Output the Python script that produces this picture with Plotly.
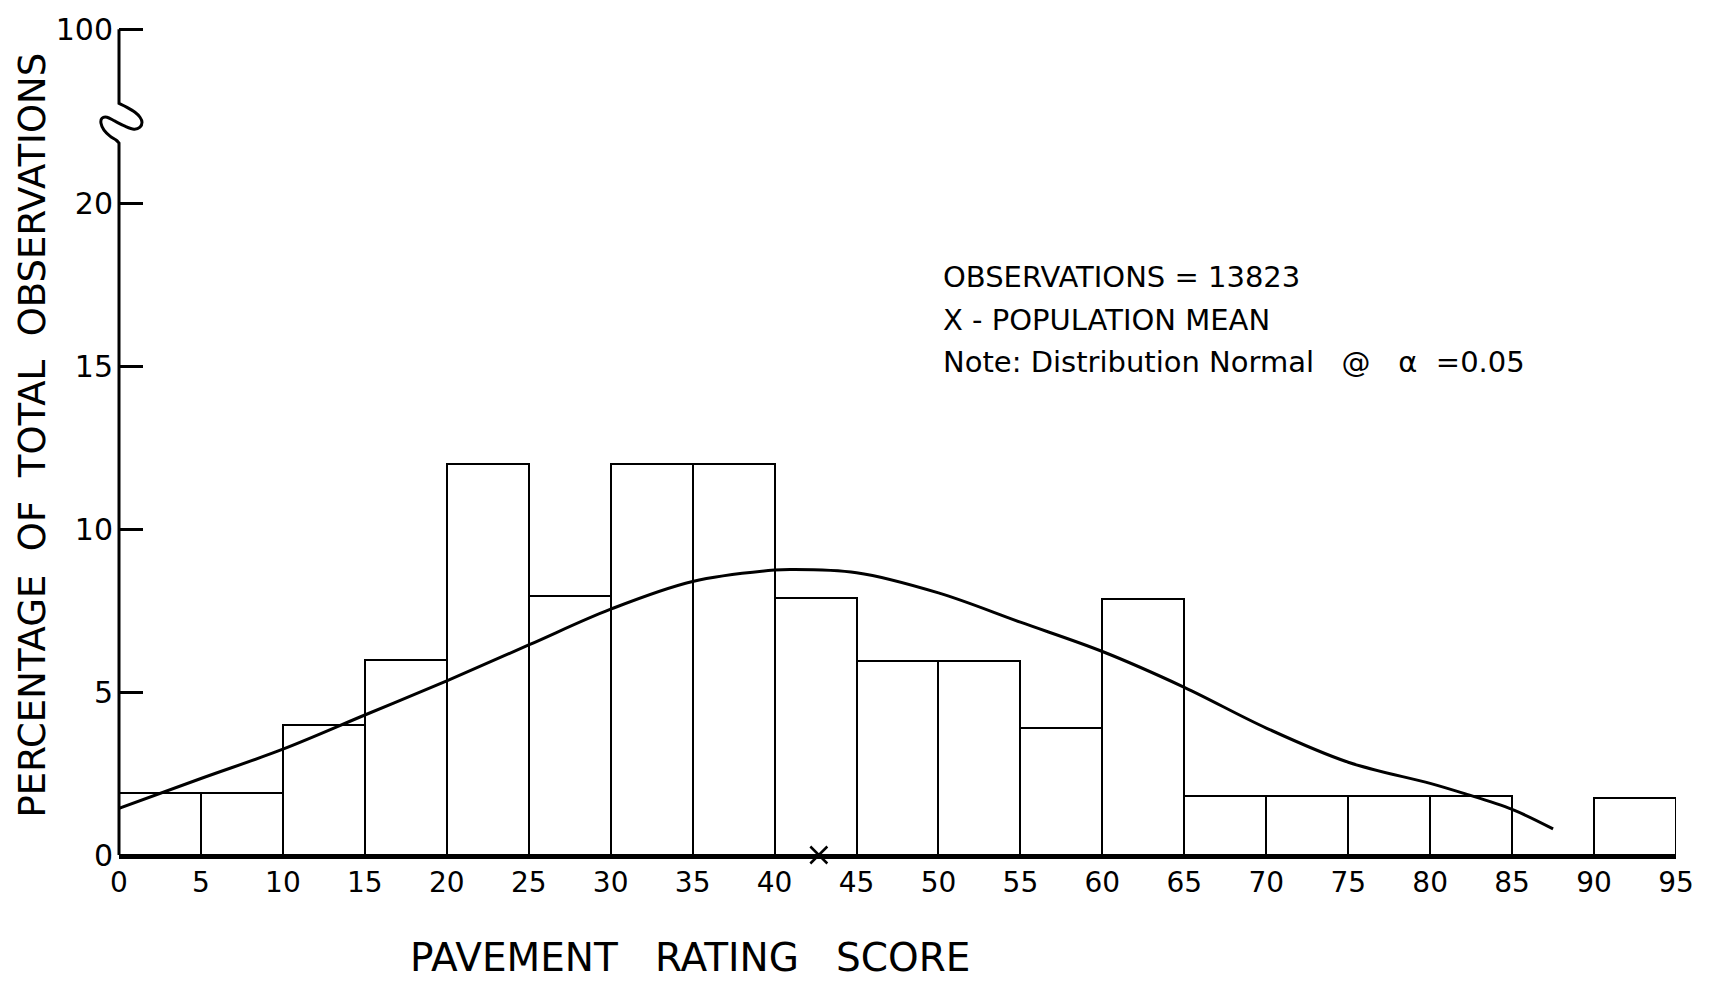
import plotly.graph_objects as go

# ---- data ----
bin_left = [0, 5, 10, 15, 20, 25, 30, 35, 40, 45, 50, 55, 60, 65, 70, 75, 80, 85, 90]
pct = [1.9, 1.9, 4.0, 6.0, 12.0, 7.95, 12.0, 12.0, 7.9, 5.95, 5.95, 3.9, 7.85, 1.8, 1.8, 1.8, 1.8, 0.0, 1.75]
bin_width = 5

curve_x = [0, 5, 10, 15, 20, 25, 30, 35, 40, 41, 45, 50, 55, 60, 65, 70, 75, 80, 82, 85, 87.5]
curve_y = [1.43, 2.35, 3.25, 4.3, 5.35, 6.45, 7.55, 8.4, 8.75, 8.77, 8.67, 8.05, 7.15, 6.25, 5.15, 3.9, 2.85, 2.2, 1.9, 1.4, 0.8]

mean_score = 42.7

x_ticks = list(range(0, 100, 5))
y_tickvals = [0, 5, 10, 15, 20, 25.36]
y_ticktext = ["0", "5", "10", "15", "20", "100"]
y_top = 25.36

notes = ["OBSERVATIONS = 13823", "X - POPULATION MEAN", "Note: Distribution Normal   @   \u03b1  =0.05"]
note_y = [17.75, 16.44, 15.13]

# ---- layout geometry (pixels) ----
W, H = 1716, 981
L, R, T, B = 119, 40, 21, 126
PW, PH = W - L - R, H - T - B
px_per_x = PW / 95.0
y_range_top = 25.4
px_per_y = PH / y_range_top

note_left_px = 941

# axis-break glyph, offsets in pixels from the axis (dx) and from the top edge (py), top to bottom
brk_dx = [0, 8, 16, 21, 23, 21, 15, 6, -4, -12, -17, -18, -15, -9, -3, 0]
brk_py = [97, 101, 106, 111, 116, 121, 123, 120, 115, 111, 112, 117, 124, 130, 134, 137]


def to_paper(dx, py):
    return dx / PW, (H - B - py) / PH


pts = [to_paper(d, p) for d, p in zip(brk_dx, brk_py)]
# Catmull-Rom -> cubic bezier for a smooth glyph
seg = []
for i in range(len(pts) - 1):
    p0 = pts[i - 1] if i > 0 else pts[i]
    p1, p2 = pts[i], pts[i + 1]
    p3 = pts[i + 2] if i + 2 < len(pts) else pts[i + 1]
    c1 = (p1[0] + (p2[0] - p0[0]) / 6, p1[1] + (p2[1] - p0[1]) / 6)
    c2 = (p2[0] - (p3[0] - p1[0]) / 6, p2[1] - (p3[1] - p1[1]) / 6)
    seg.append(f"C {c1[0]:.6f},{c1[1]:.6f} {c2[0]:.6f},{c2[1]:.6f} {p2[0]:.6f},{p2[1]:.6f}")
top_paper = y_top / y_range_top
axis_path = (f"M 0,{top_paper:.6f} L {pts[0][0]:.6f},{pts[0][1]:.6f} " + " ".join(seg)
             + " L 0,0")

FONT = "DejaVu Sans, Verdana, sans-serif"

fig = go.Figure()
fig.add_trace(go.Bar(
    x=[b + bin_width / 2 for b in bin_left], y=pct, width=bin_width,
    marker=dict(color="white", line=dict(color="black", width=2)),
    showlegend=False, hoverinfo="skip",
))
fig.add_trace(go.Scatter(
    x=curve_x, y=curve_y, mode="lines",
    line=dict(color="black", width=3, shape="spline", smoothing=1.0),
    showlegend=False,
))
fig.add_trace(go.Scatter(
    x=[mean_score], y=[0.0], mode="markers",
    marker=dict(symbol="x-thin", size=17, line=dict(color="black", width=2.5)),
    cliponaxis=False, showlegend=False,
))

fig.add_shape(type="path", xref="paper", yref="paper", path=axis_path,
              line=dict(color="black", width=3), layer="above")

for t, yy in zip(notes, note_y):
    fig.add_annotation(x=(note_left_px - L) / px_per_x, y=yy, xref="x", yref="y", text=t,
                       showarrow=False, xanchor="left", yanchor="middle",
                       font=dict(family=FONT, size=29, color="black"))

fig.add_annotation(xref="paper", yref="paper", x=(33 - L) / PW, y=(H - B - 432) / PH,
                   text="PERCENTAGE  OF  TOTAL  OBSERVATIONS", textangle=-90, showarrow=False,
                   xanchor="center", yanchor="middle",
                   font=dict(family=FONT, size=37, color="black"))
fig.add_annotation(xref="paper", yref="paper", x=(690 - L) / PW, y=(H - B - 958) / PH,
                   text="PAVEMENT   RATING   SCORE", showarrow=False,
                   xanchor="center", yanchor="middle",
                   font=dict(family=FONT, size=39, color="black"))

fig.update_layout(
    width=W, height=H,
    margin=dict(l=L, r=R, t=T, b=B),
    paper_bgcolor="white", plot_bgcolor="white",
    bargap=0,
    xaxis=dict(range=[0, 95], tickvals=x_ticks, ticks="", showgrid=False, zeroline=False,
               showline=True, linecolor="black", linewidth=3.5,
               tickfont=dict(family=FONT, size=28, color="black")),
    yaxis=dict(range=[0, y_range_top], tickvals=y_tickvals, ticktext=y_ticktext,
               ticks="inside", ticklen=24, tickwidth=2.5, tickcolor="black",
               ticklabelstandoff=5,
               showgrid=False, zeroline=False, showline=False,
               tickfont=dict(family=FONT, size=30, color="black")),
)

fig.write_html("out.html", config={"displayModeBar": False},
               post_script="document.body.style.margin='0';document.body.style.overflow='hidden';")
